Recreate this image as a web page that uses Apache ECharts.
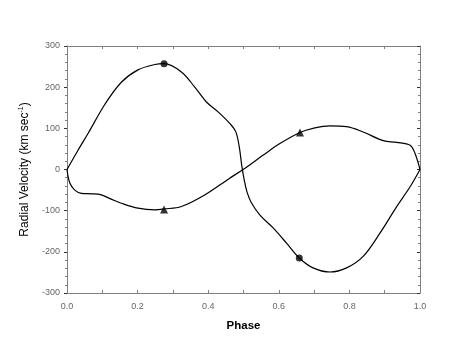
<!DOCTYPE html>
<html><head><meta charset="utf-8">
<script src="https://cdn.jsdelivr.net/npm/echarts@6/dist/echarts.min.js"></script>
<style>html,body{margin:0;padding:0;background:#fff}#c{width:458px;height:354px}</style>
</head><body><div id="c"></div>
<script>
// Primary star (circle marker) radial velocity curve
const phase1 = [0.0, 0.03, 0.06, 0.107, 0.154, 0.201, 0.249, 0.275, 0.324, 0.362, 0.395, 0.428, 0.461, 0.478, 0.488, 0.495, 0.502, 0.51, 0.522, 0.546, 0.584, 0.622, 0.658, 0.697, 0.745, 0.792, 0.839, 0.887, 0.934, 0.972, 1.0];
const vel1   = [0, 45, 88, 158, 212, 242, 255, 257, 237, 200, 164, 140, 112, 92, 55, 10, -25, -55, -80, -110, -142, -179, -215, -239, -249, -239, -211, -154, -90, -42, 0];
// Secondary star (triangle marker)
const phase2 = [0.0, 0.008, 0.022, 0.041, 0.07, 0.095, 0.125, 0.154, 0.201, 0.249, 0.275, 0.324, 0.39, 0.461, 0.499, 0.556, 0.603, 0.66, 0.697, 0.745, 0.792, 0.839, 0.896, 0.934, 0.972, 0.986, 1.0];
const vel2   = [0, -33, -50, -58, -59, -61, -72, -82, -94, -98, -96, -90, -62, -21, 0, 35, 63, 90, 100, 106, 104, 91, 70, 66, 59, 39, 0];
// Marked observation points
const circlePts = [[0.275, 257], [0.658, -215]];
const trianglePts = [[0.275, -97], [0.66, 90]];
// Axis ticks
const xTicks = [0.0, 0.2, 0.4, 0.6, 0.8, 1.0];
const yTicks = [-300, -200, -100, 0, 100, 200, 300];

const pair = (xs, ys) => xs.map((x, i) => [x, ys[i]]);
const axColor = '#808080';
const xMin = xTicks[0], xMax = xTicks[xTicks.length-1];
const yMin = yTicks[0], yMax = yTicks[yTicks.length-1];
const chart = echarts.init(document.getElementById('c'));
chart.setOption({
  animation: false,
  grid: {left: 67, right: 38, top: 46, bottom: 61},
  xAxis: [{
    type: 'value', min: xMin, max: xMax, interval: 0.2,
    name: 'Phase', nameLocation: 'middle', nameGap: 27,
    nameTextStyle: {fontFamily: 'Liberation Sans', fontSize: 11.5, fontWeight: 'bold', color: '#000'},
    axisLine: {onZero: false, lineStyle: {color: axColor}},
    axisTick: {inside: true, length: 3, lineStyle: {color: axColor}},
    minorTick: {show: true, splitNumber: 2, length: 3, lineStyle: {color: axColor}},
    axisLabel: {fontFamily: 'Liberation Sans', fontSize: 9, color: '#666', margin: 9, formatter: v => v.toFixed(1)},
    splitLine: {show: false}
  }, {
    type: 'value', position: 'top', min: xMin, max: xMax, interval: 0.2,
    axisLine: {show: true, onZero: false, lineStyle: {color: axColor}},
    axisTick: {inside: true, length: 3, lineStyle: {color: axColor}},
    minorTick: {show: true, splitNumber: 2, length: 3, lineStyle: {color: axColor}},
    axisLabel: {show: false}, splitLine: {show: false}
  }],
  yAxis: [{
    type: 'value', min: yMin, max: yMax, interval: 100,
    name: 'Radial Velocity (km sec{sup|-1})', nameLocation: 'middle', nameGap: 35, nameRotate: 90,
    nameTextStyle: {fontFamily: 'Liberation Sans', fontSize: 12, color: '#000',
      rich: {sup: {fontSize: 7, verticalAlign: 'top', padding: [0,0,7,0], fontFamily: 'Liberation Sans', color: '#000'}}},
    axisLine: {show: true, onZero: false, lineStyle: {color: axColor}},
    axisTick: {length: 3, lineStyle: {color: '#333'}},
    minorTick: {show: true, splitNumber: 5, length: 2, lineStyle: {color: axColor}},
    axisLabel: {fontFamily: 'Liberation Sans', fontSize: 9, color: '#666', margin: 7},
    splitLine: {show: false}
  }, {
    type: 'value', position: 'right', min: yMin, max: yMax, interval: 100,
    axisLine: {show: true, onZero: false, lineStyle: {color: axColor}},
    axisTick: {inside: true, length: 3, lineStyle: {color: '#333'}},
    minorTick: {show: true, splitNumber: 5, length: 2, lineStyle: {color: axColor}},
    axisLabel: {show: false}, splitLine: {show: false}
  }],
  series: [
    {type: 'line', data: pair(phase1, vel1), smooth: 0.35, showSymbol: false, lineStyle: {color: '#000', width: 1.2}},
    {type: 'line', data: pair(phase2, vel2), smooth: 0.35, showSymbol: false, lineStyle: {color: '#000', width: 1.2}},
    {type: 'scatter', data: circlePts, symbol: 'circle', symbolSize: 7, itemStyle: {color: '#000'}},
    {type: 'scatter', data: trianglePts, symbol: 'triangle', symbolSize: 8, itemStyle: {color: '#000'}}
  ]
});
</script></body></html>
